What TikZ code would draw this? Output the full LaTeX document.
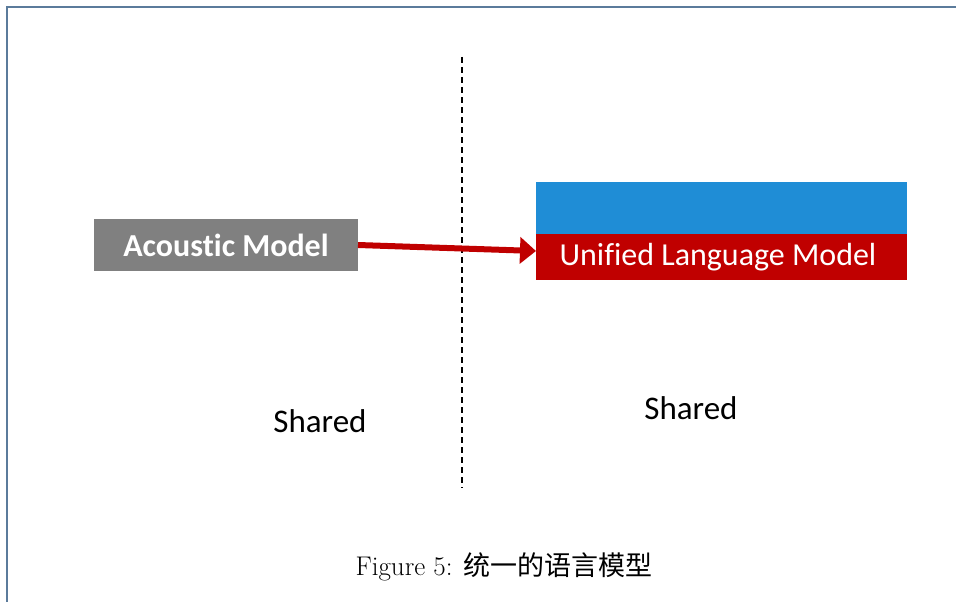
\documentclass[tikz,border=0pt]{standalone}
\usepackage{fontspec}
\newfontfamily\carlito{Carlito}
\newfontfamily\carlitonl[RawFeature=-liga]{Carlito}
\newfontfamily\cjk{Noto Sans CJK SC}
\usetikzlibrary{arrows.meta}
\definecolor{framec}{HTML}{5B7B9B}
\definecolor{amgray}{HTML}{808080}
\definecolor{ulmblue}{HTML}{1F8DD6}
\definecolor{ulmred}{HTML}{C00000}
\tikzset{
  box/.style={inner sep=0pt, outer sep=0pt, draw=none},
  amodel/.style={box, fill=amgray, text=white, minimum width=264pt, minimum height=52pt, font=\carlitonl\bfseries\fontsize{32}{34}\selectfont},
  bluebox/.style={box, fill=ulmblue, minimum width=371pt, minimum height=52pt},
  redbox/.style={box, fill=ulmred, minimum width=371pt, minimum height=46pt},
  redtext/.style={inner sep=0pt, text=white, font=\carlitonl\fontsize{32}{34}\selectfont},
  sharedlbl/.style={font=\carlito\fontsize{33}{35}\selectfont, inner sep=0pt},
  conn/.style={draw=ulmred, line width=6pt, -{Triangle[length=16pt,width=26pt]}},
  divider/.style={line width=1.5pt, dash pattern=on 6pt off 4pt},
  frameline/.style={draw=framec, line width=2pt},
  caption/.style={font=\fontsize{27}{30}\selectfont, inner sep=0pt}
}
\begin{document}
\begin{tikzpicture}[x=1pt,y=-1pt]
\useasboundingbox (0,0) rectangle (956,602);
\coordinate (ftr) at (956,7);
\coordinate (ftl) at (7,7);
\coordinate (fbl) at (7,602);
\draw[frameline] (ftr) -- (ftl) -- (fbl);
\coordinate (dtop) at (462,57);
\coordinate (dbot) at (462,488);
\draw[divider] (dtop) -- (dbot);
\node[amodel] (am) at (226,245) {Acoustic Model};
\node[bluebox] (top) at (721.5,208) {};
\node[redbox] (ulm) at (721.5,257) {};
\node[redtext] (ulmt) at (718,257) {Unified Language Model};
\draw[conn] (am.east) -- ([yshift=6pt]ulm.west);
\node[sharedlbl] (s1) at (320,421) {Shared};
\node[sharedlbl] (s2) at (691,408) {Shared};
\node[caption] (cap) at (504,567) {Figure 5: {\cjk 统一的语言模型}};
\end{tikzpicture}
\end{document}
